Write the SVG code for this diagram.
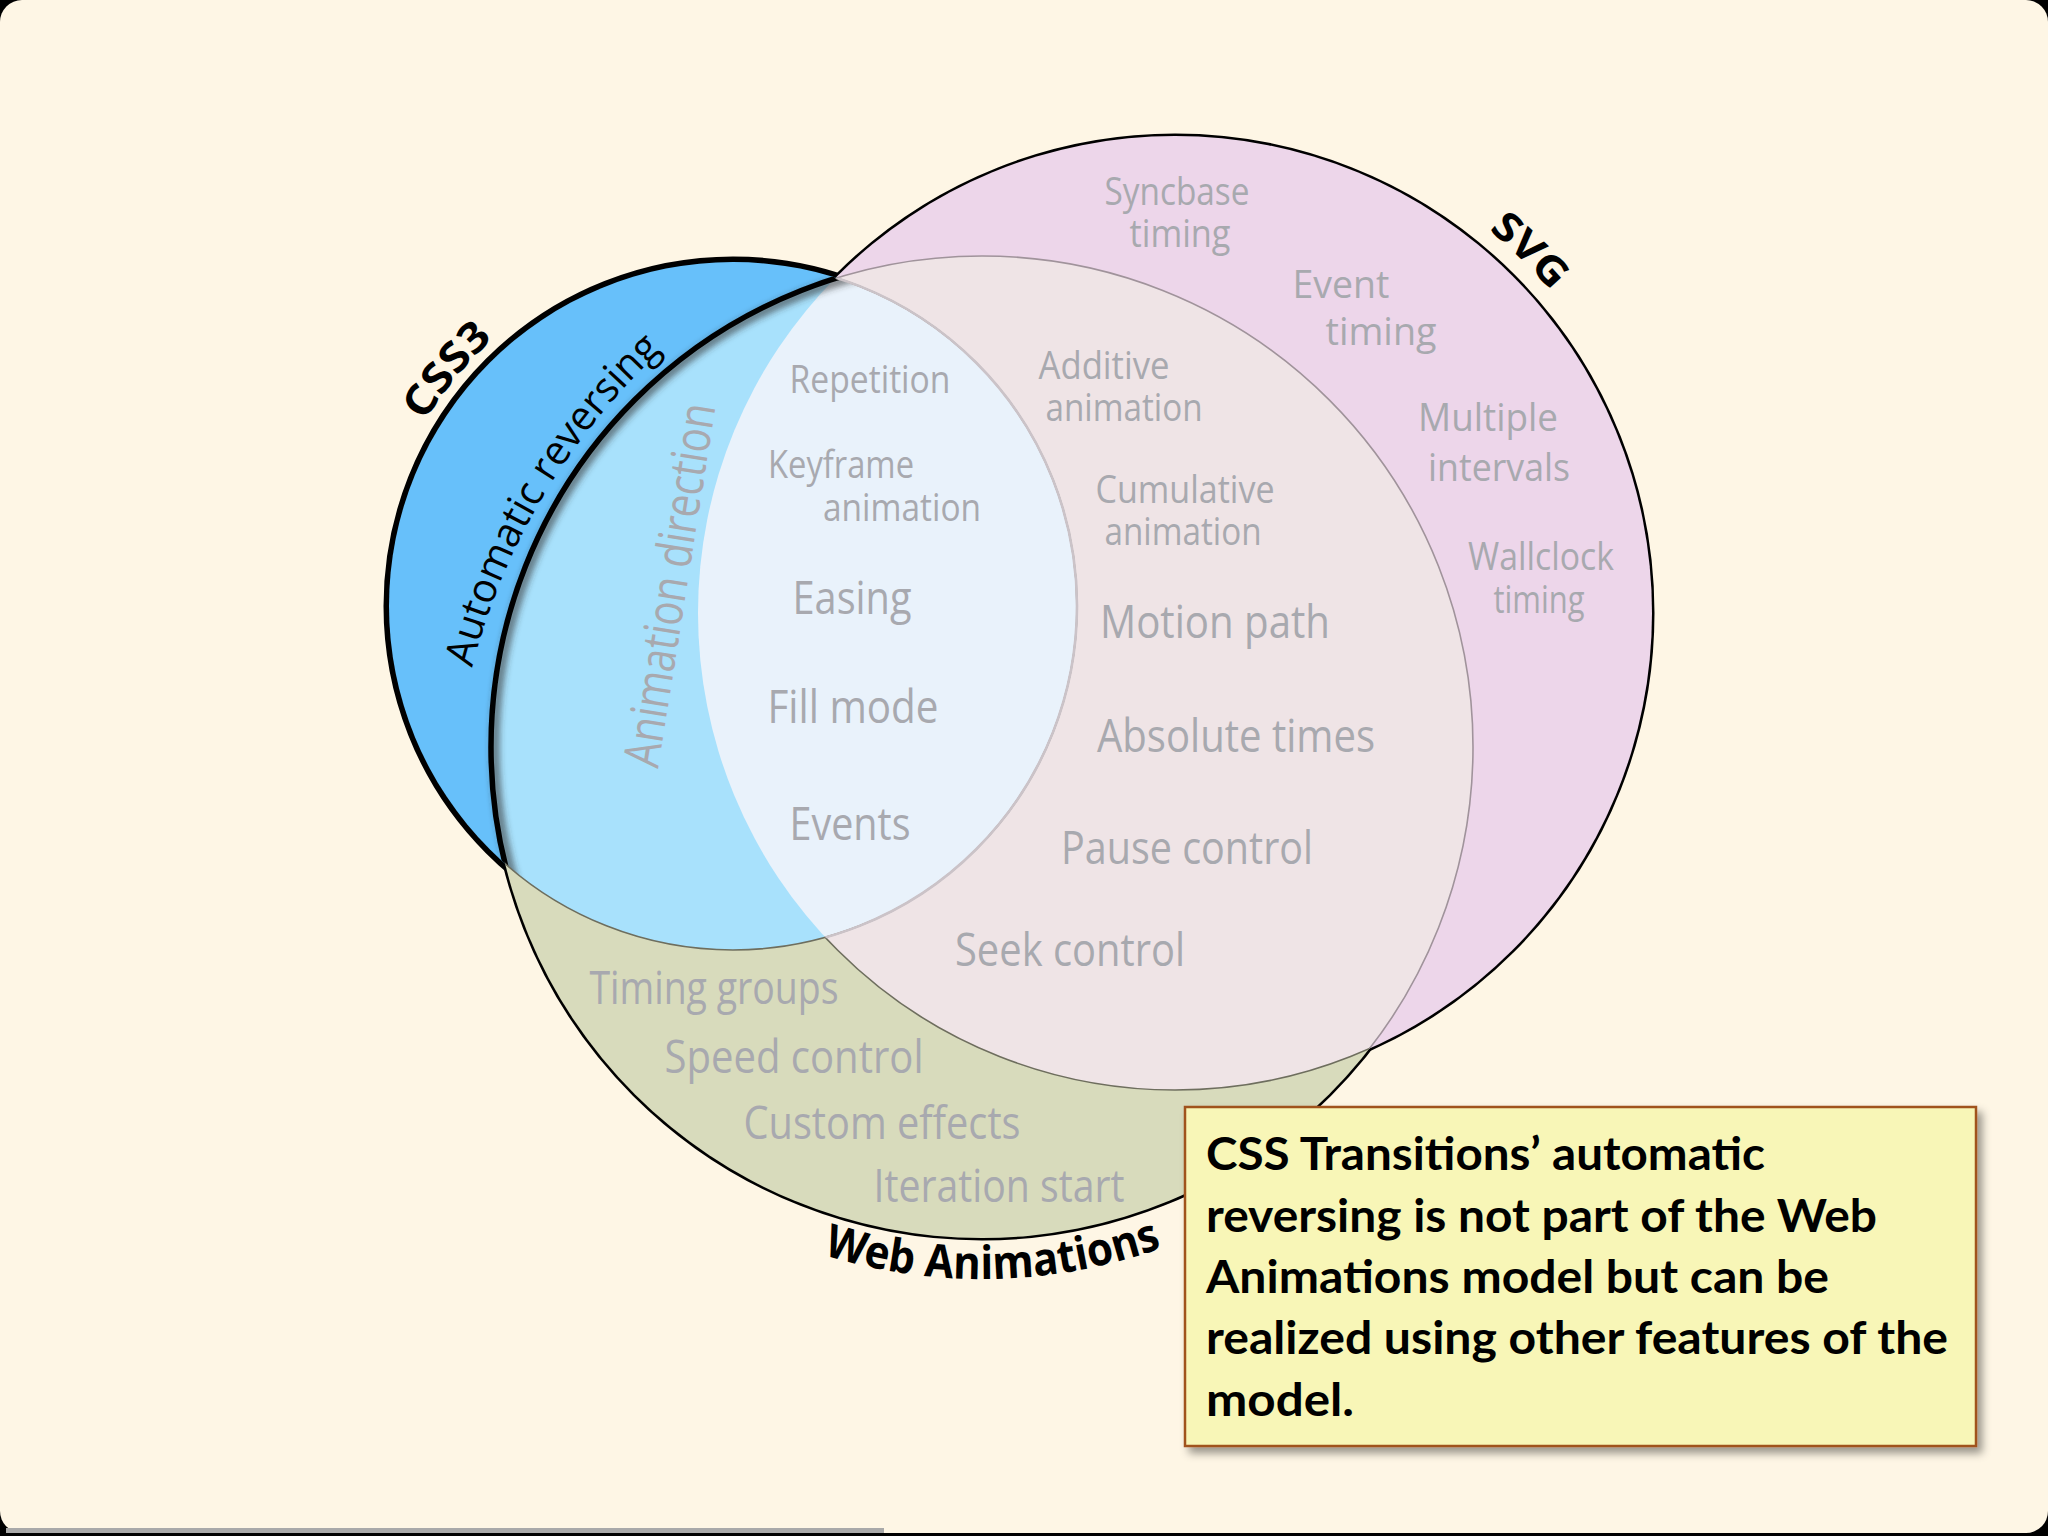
<svg xmlns="http://www.w3.org/2000/svg" width="2048" height="1536" viewBox="0 0 2048 1536">
<defs>
<style>
.lbl{font-family:"Open Sans","Liberation Sans",sans-serif;fill:#A8A9AF;text-anchor:middle}
.sm{font-size:38px}
.bg{font-size:45px}
.title{font-family:"Open Sans","Liberation Sans",sans-serif;font-weight:700;fill:#000}
.note{font-family:Lato,"Liberation Sans",sans-serif;font-weight:700;font-size:45px;fill:#000}
.thin{fill:none;stroke-width:1.6}
</style>
<clipPath id="clipWA"><circle cx="982" cy="747" r="491"/></clipPath>
<clipPath id="clipSVG"><circle cx="1175" cy="613" r="477"/></clipPath>
<clipPath id="clipCSS"><circle cx="733" cy="606" r="344"/></clipPath>
<filter id="blur3" x="-10%" y="-10%" width="120%" height="120%"><feGaussianBlur stdDeviation="3"/></filter>
<filter id="boxShadow" x="-5%" y="-5%" width="115%" height="125%"><feDropShadow dx="5" dy="6" stdDeviation="4" flood-color="#000" flood-opacity="0.4"/></filter>
<path id="arcCSS3" d="M 385.4 516.1 A 359 359 0 0 1 578.5 282.0"/>
<path id="arcSVG" d="M 1379.5 162.2 A 495 495 0 0 1 1621.4 399.1"/>
<path id="arcWA" d="M 725.7 1213.2 A 532 532 0 0 0 1257.6 1202.1"/>
<path id="arcAuto" d="M 455.3 762.2 A 650 650 0 0 1 737.1 290.7"/>
</defs>

<g id="background">
<rect x="0" y="0" width="2048" height="1536" fill="#000"/>
<rect x="0" y="0" width="2048" height="1533" rx="22" ry="22" fill="#FEF6E5"/>
<rect x="6" y="1528" width="878" height="5" fill="#A9A9A9"/>
</g>

<g id="outlines">
<circle cx="982" cy="747" r="491" fill="none" stroke="#000" stroke-width="5"/>
<circle cx="1175" cy="613" r="477" fill="none" stroke="#000" stroke-width="5"/>
<circle cx="733" cy="606" r="344" fill="none" stroke="#000" stroke-width="11"/>
</g>

<g id="node-web-animations">
<circle cx="982" cy="747" r="491" fill="#D8DBBC"/>
</g>

<g id="node-svg">
<circle cx="1175" cy="613" r="477" fill="#EDD6EA"/>
<g clip-path="url(#clipSVG)">
<circle cx="982" cy="747" r="491" fill="#EFE4E6"/>
<circle cx="982" cy="747" r="491" class="thin" stroke="#A0939B"/>
</g>
<g clip-path="url(#clipWA)">
<circle cx="1175" cy="613" r="477" class="thin" stroke="#6E6E5E"/>
</g>
</g>

<g id="node-css3">
<circle cx="733" cy="606" r="344" fill="#67C0FA"/>
<g clip-path="url(#clipCSS)">
<circle cx="982" cy="747" r="491" fill="#A8E1FC"/>
<g clip-path="url(#clipWA)">
<circle cx="1175" cy="613" r="477" fill="#E9F2FB"/>
</g>
<circle cx="982" cy="747" r="487" fill="none" stroke="#333" stroke-opacity="0.6" stroke-width="9" filter="url(#blur3)"/>
<circle cx="982" cy="747" r="491" fill="none" stroke="#000" stroke-width="5.5"/>
</g>
<g clip-path="url(#clipWA)">
<circle cx="733" cy="606" r="344" class="thin" stroke="#6E6E5E"/>
<g clip-path="url(#clipSVG)">
<circle cx="733" cy="606" r="344" fill="none" stroke="#CBC3C8" stroke-width="2.6"/>
</g>
</g>
</g>

<g id="set-labels">
<text class="title" font-size="42"><textPath href="#arcCSS3" startOffset="50%" text-anchor="middle" textLength="108" lengthAdjust="spacingAndGlyphs">CSS3</textPath></text>
<text class="title" font-size="40"><textPath href="#arcSVG" startOffset="50%" text-anchor="middle" textLength="88" lengthAdjust="spacingAndGlyphs">SVG</textPath></text>
<text class="title" font-size="46"><textPath href="#arcWA" startOffset="50%" text-anchor="middle" textLength="345" lengthAdjust="spacingAndGlyphs">Web Animations</textPath></text>
<text font-family="Open Sans, Liberation Sans, sans-serif" font-size="41" fill="#000"><textPath href="#arcAuto" startOffset="50%" text-anchor="middle" textLength="375" lengthAdjust="spacingAndGlyphs">Automatic reversing</textPath></text>
</g>

<g id="feature-labels">
<text class="lbl sm" x="1177" y="205" textLength="145" lengthAdjust="spacingAndGlyphs">Syncbase</text>
<text class="lbl sm" x="1180" y="247" textLength="101" lengthAdjust="spacingAndGlyphs">timing</text>
<text class="lbl sm" x="1341" y="298" textLength="97" lengthAdjust="spacingAndGlyphs">Event</text>
<text class="lbl sm" x="1381" y="345" textLength="111" lengthAdjust="spacingAndGlyphs">timing</text>
<text class="lbl sm" x="1488" y="431" textLength="140" lengthAdjust="spacingAndGlyphs">Multiple</text>
<text class="lbl sm" x="1499" y="481" textLength="142" lengthAdjust="spacingAndGlyphs">intervals</text>
<text class="lbl sm" x="1541" y="570" textLength="146" lengthAdjust="spacingAndGlyphs">Wallclock</text>
<text class="lbl sm" x="1539" y="613" textLength="91" lengthAdjust="spacingAndGlyphs">timing</text>
<text class="lbl sm" x="870" y="393" textLength="161" lengthAdjust="spacingAndGlyphs">Repetition</text>
<text class="lbl sm" x="841" y="478" textLength="146" lengthAdjust="spacingAndGlyphs">Keyframe</text>
<text class="lbl sm" x="902" y="521" textLength="158" lengthAdjust="spacingAndGlyphs">animation</text>
<text class="lbl sm" x="1104" y="379" textLength="131" lengthAdjust="spacingAndGlyphs">Additive</text>
<text class="lbl sm" x="1124" y="421" textLength="157" lengthAdjust="spacingAndGlyphs">animation</text>
<text class="lbl sm" x="1185" y="503" textLength="179" lengthAdjust="spacingAndGlyphs">Cumulative</text>
<text class="lbl sm" x="1183" y="545" textLength="157" lengthAdjust="spacingAndGlyphs">animation</text>
<text class="lbl bg" x="852" y="614" textLength="119" lengthAdjust="spacingAndGlyphs">Easing</text>
<text class="lbl bg" x="853" y="723" textLength="171" lengthAdjust="spacingAndGlyphs">Fill mode</text>
<text class="lbl bg" x="850" y="840" textLength="121" lengthAdjust="spacingAndGlyphs">Events</text>
<text class="lbl bg" x="1215" y="638" textLength="230" lengthAdjust="spacingAndGlyphs">Motion path</text>
<text class="lbl bg" x="1236" y="752" textLength="278" lengthAdjust="spacingAndGlyphs">Absolute times</text>
<text class="lbl bg" x="1187" y="864" textLength="252" lengthAdjust="spacingAndGlyphs">Pause control</text>
<text class="lbl bg" x="1070" y="966" textLength="230" lengthAdjust="spacingAndGlyphs">Seek control</text>
<text class="lbl bg" x="714" y="1004" textLength="249" lengthAdjust="spacingAndGlyphs">Timing groups</text>
<text class="lbl bg" x="794" y="1073" textLength="259" lengthAdjust="spacingAndGlyphs">Speed control</text>
<text class="lbl bg" x="882" y="1139" textLength="277" lengthAdjust="spacingAndGlyphs">Custom effects</text>
<text class="lbl bg" x="999" y="1202" textLength="251" lengthAdjust="spacingAndGlyphs">Iteration start</text>
<text class="lbl" font-size="50" transform="translate(670,585) rotate(-81)" x="0" y="17" textLength="367" lengthAdjust="spacingAndGlyphs">Animation direction</text>
</g>

<g id="note">
<rect x="1185" y="1107" width="791" height="339" fill="#F8F6B7" stroke="#A0521A" stroke-width="2.5" filter="url(#boxShadow)"/>
<text class="note" x="1206" y="1170" textLength="559" lengthAdjust="spacingAndGlyphs">CSS Transitions’ automatic</text>
<text class="note" x="1206" y="1232" textLength="671" lengthAdjust="spacingAndGlyphs">reversing is not part of the Web</text>
<text class="note" x="1206" y="1293" textLength="623" lengthAdjust="spacingAndGlyphs">Animations model but can be</text>
<text class="note" x="1206" y="1354" textLength="742" lengthAdjust="spacingAndGlyphs">realized using other features of the</text>
<text class="note" x="1206" y="1416" textLength="148" lengthAdjust="spacingAndGlyphs">model.</text>
</g>
</svg>
